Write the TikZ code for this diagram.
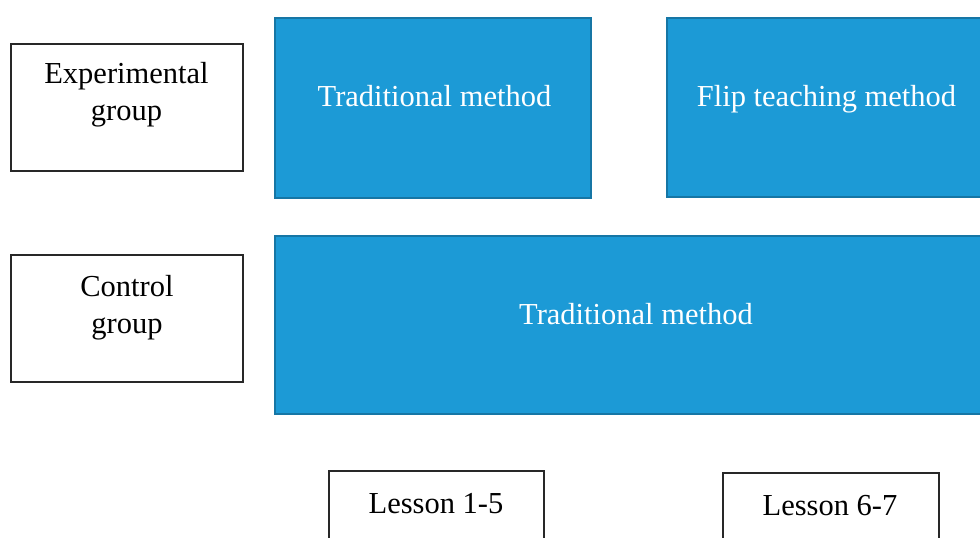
\documentclass[tikz,border=0pt]{standalone}
\usepackage{fontspec}
\setmainfont{Liberation Serif}
\definecolor{boxblue}{RGB}{28,154,214}
\definecolor{boxblueedge}{RGB}{22,118,165}
\definecolor{boxedge}{RGB}{40,40,40}
\tikzset{
  whitebox/.style={draw=boxedge, line width=2pt, fill=white, minimum width=#1, inner sep=0pt},
  bluebox/.style={draw=boxblueedge, line width=2pt, fill=boxblue, inner sep=0pt},
  lbl/.style={font=\fontsize{30.5}{37}\selectfont, inner sep=0pt, align=center, anchor=base},
  wlbl/.style={lbl, text=white}
}
\begin{document}
\begin{tikzpicture}[x=1pt,y=-1pt]
\useasboundingbox (0,0) rectangle (980,538);
% left group boxes
\node[whitebox=232pt, minimum height=127pt] (exp) at (127,107.5) {};
\node[whitebox=232pt, minimum height=127pt] (ctrl) at (127,318.5) {};
% blue method boxes
\node[bluebox, minimum width=316pt, minimum height=180pt] (trad1) at (433,108) {};
\node[bluebox, minimum width=316pt, minimum height=179pt] (flip) at (825,107.5) {};
\node[bluebox, minimum width=722pt, minimum height=178pt] (trad2) at (636,325) {};
% lesson boxes
\node[whitebox=215pt, minimum height=80pt] (les1) at (436.5,511) {};
\node[whitebox=216pt, minimum height=80pt] (les2) at (831,513) {};
% labels
\node[lbl] (expt) at (126.5,120) {Experimental\\group};
\node[lbl] (ctrlt) at (127,333) {Control\\group};
\node[wlbl] (trad1t) at (434.5,106) {Traditional method};
\node[wlbl] (flipt) at (826.5,106) {Flip teaching method};
\node[wlbl] (trad2t) at (636,324) {Traditional method};
\node[lbl] (les1t) at (436,513) {Lesson 1-5};
\node[lbl] (les2t) at (830,515) {Lesson 6-7};
\end{tikzpicture}
\end{document}
